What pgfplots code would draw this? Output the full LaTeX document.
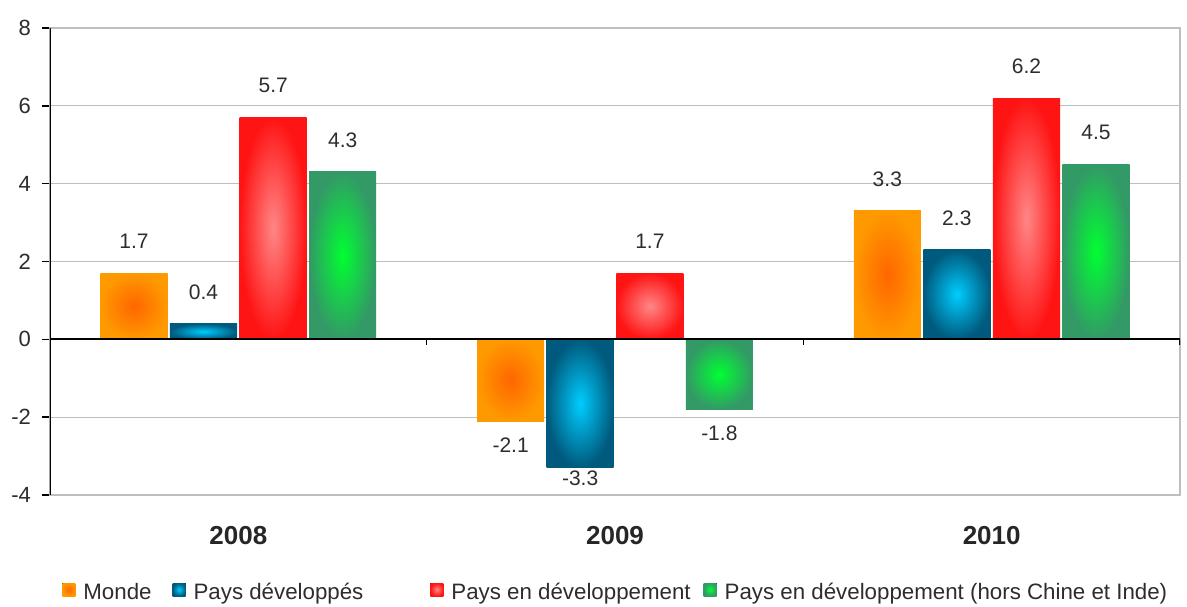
\documentclass[border=0pt]{standalone}
\usepackage{pgfplots}
\pgfplotsset{compat=1.18}
\usepackage{fontspec}
\setmainfont{Liberation Sans}
\definecolor{orO}{RGB}{255,153,0}
\definecolor{orI}{RGB}{255,102,0}
\definecolor{blO}{RGB}{0,90,125}
\definecolor{blI}{RGB}{0,205,255}
\definecolor{rdO}{RGB}{255,20,20}
\definecolor{rdI}{RGB}{255,135,135}
\definecolor{gnO}{RGB}{51,153,102}
\definecolor{gnI}{RGB}{0,255,50}
\definecolor{gridc}{RGB}{190,190,190}
\definecolor{lab}{RGB}{45,45,45}
\pgfplotsset{
 sOr/.style={bar shift=-0.277, draw=none, inner color=orI, outer color=orO},
 sBl/.style={bar shift=-0.0925, draw=none, inner color=blI, outer color=blO},
 sRd/.style={bar shift=0.0925, draw=none, inner color=rdI, outer color=rdO},
 sGn/.style={bar shift=0.277, draw=none, inner color=gnI, outer color=gnO},
}
\begin{document}
\begin{tikzpicture}
\begin{axis}[
 scale only axis, width=565pt, height=233.5pt,
 xmin=-0.5, xmax=2.5, ymin=-4, ymax=8,
 ybar, bar width=0.178,
 xtick={0,1,2}, xticklabels={2008,2009,2010},
 xticklabel style={font=\fontsize{13}{15}\selectfont\bfseries, text=black!85, yshift=-8pt},
 ytick={-4,-2,...,8},
 yticklabel style={font=\fontsize{11}{13}\selectfont, text=lab, xshift=-2pt},
 ymajorgrids, grid style={gridc, line width=0.6pt},
 axis line style={gridc, line width=0.6pt},
 ytick pos=left, tick align=outside, major tick length=4pt,
 ytick style={black, line width=0.8pt},
 xtick style={draw=none},
 /pgf/number format/assume math mode=true,
 nodes near coords,
 every node near coord/.append style={font=\fontsize{10.5}{12}\selectfont, text=lab, inner ysep=10pt, yshift=2pt},
 legend columns=4,
 legend image code/.code={\fill[#1] (0pt,-1.5pt) rectangle (6.5pt,5pt);},
 legend style={draw=none, fill=none, inner sep=0pt, at={(0,0)}, anchor=north west, yshift=-42pt, xshift=6pt,
   font=\fontsize{11.15}{13}\selectfont, text=lab,
   /tikz/every odd column/.append style={column sep=2pt},
   /tikz/every even column/.append style={column sep=4.5pt}},
]
% Monde
\addplot[sOr] coordinates {(0,1.7)};
\addlegendentry{Monde\kern4pt\mbox{}}
% Pays developpes
\addplot[sBl] coordinates {(0,0.4)};
\addlegendentry{Pays développés\kern27pt\mbox{}}
% Pays en developpement
\addplot[sRd] coordinates {(0,5.7)};
\addlegendentry{Pays en développement}
% hors Chine et Inde
\addplot[sGn] coordinates {(0,4.3)};
\addlegendentry{Pays en développement (hors Chine et Inde)}
\addplot[sOr, forget plot] coordinates {(1,-2.1)};
\addplot[sOr, forget plot] coordinates {(2,3.3)};
\addplot[sBl, forget plot, every node near coord/.append style={inner ysep=3.5pt}] coordinates {(1,-3.3)};
\addplot[sBl, forget plot] coordinates {(2,2.3)};
\addplot[sRd, forget plot] coordinates {(1,1.7)};
\addplot[sRd, forget plot] coordinates {(2,6.2)};
\addplot[sGn, forget plot] coordinates {(1,-1.8)};
\addplot[sGn, forget plot] coordinates {(2,4.5)};
\draw[black, line width=1pt] (axis cs:-0.5,0) -- (axis cs:2.5,0);
\draw[black, line width=1pt] (axis cs:-0.5,-4) -- (axis cs:-0.5,8);
\draw[black, line width=0.8pt] (axis cs:0.5,0) -- ++(0pt,-3pt);
\draw[black, line width=0.8pt] (axis cs:1.5,0) -- ++(0pt,-3pt);
\draw[black, line width=0.8pt] (axis cs:2.5,0) -- ++(0pt,-3pt);
\end{axis}
\path (current axis.south west) ++(-25pt,-54pt) coordinate (bl);
\path (current axis.north east) ++(3.5pt,14pt) coordinate (tr);
\path[use as bounding box] (bl) rectangle (tr);
\end{tikzpicture}
\end{document}
